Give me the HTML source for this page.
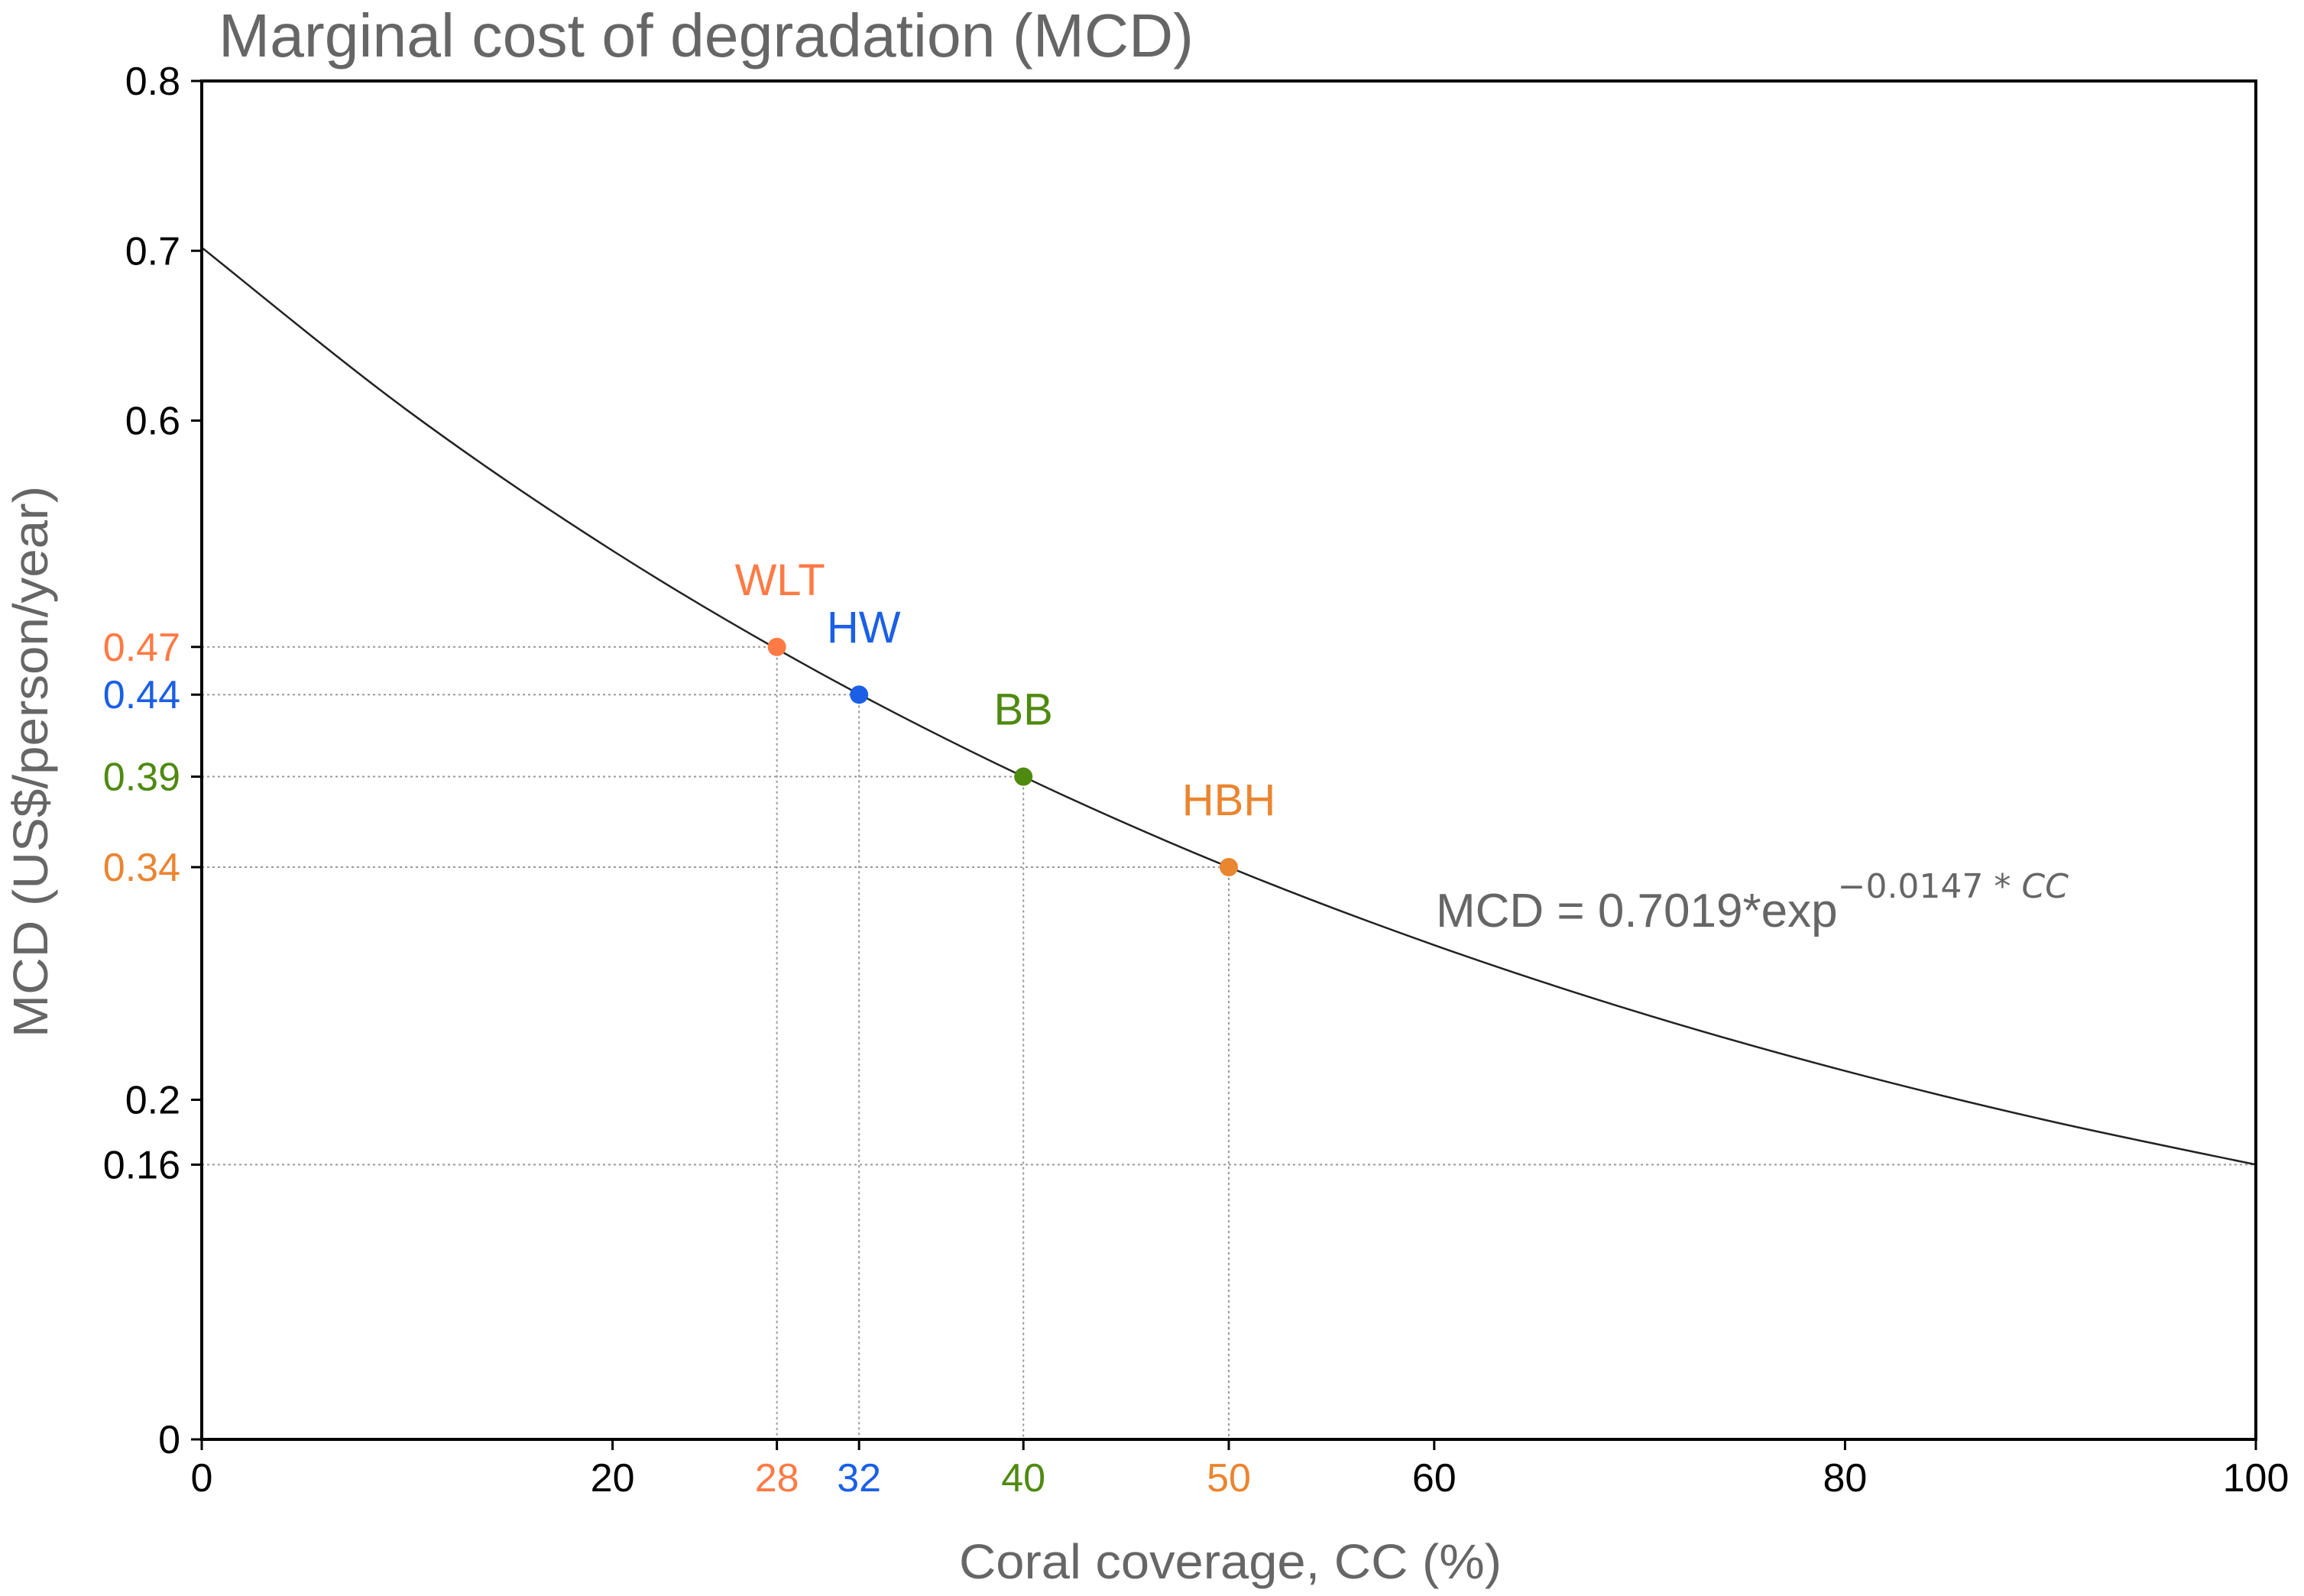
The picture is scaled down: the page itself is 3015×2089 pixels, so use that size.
<!DOCTYPE html>
<html><head><meta charset="utf-8"><style>
html,body{margin:0;padding:0;background:#fff;}
svg{display:block;font-family:"Liberation Sans",sans-serif;}
</style></head><body>
<svg id="chart" width="3015" height="2089" viewBox="0 0 3015 2089" xmlns="http://www.w3.org/2000/svg">
<text x="286" y="74" font-size="80" fill="#666" textLength="1276" lengthAdjust="spacingAndGlyphs">Marginal cost of degradation (MCD)</text>
<g id="plot"></g>
<text transform="translate(62,997) rotate(-90)" text-anchor="middle" font-size="64" fill="#666" textLength="722" lengthAdjust="spacingAndGlyphs">MCD (US$/person/year)</text>
<text x="1610" y="2066" text-anchor="middle" font-size="64" fill="#666" textLength="710" lengthAdjust="spacingAndGlyphs">Coral coverage, CC (%)</text>
<text x="1879" y="1213" font-size="62" fill="#666">MCD = 0.7019*exp<tspan dy="-38" font-size="44" font-family="DejaVu Sans, sans-serif">−0.0147 * <tspan font-style="italic">CC</tspan></tspan></text>
</svg>
<script>
const curveX = [0,10,20,30,40,50,60,70,80,90,100];
const curveY = [0.7019,0.6061,0.5234,0.4520,0.3903,0.3370,0.2911,0.2513,0.2170,0.1874,0.1618];
const siteNames = ["WLT","HW","BB","HBH"];
const siteX = [28,32,40,50];
const siteY = [0.4667,0.4386,0.3903,0.3370];
const siteYLabels = ["0.47","0.44","0.39","0.34"];
const siteColors = ["#ff7a45","#1a5fe6","#4f8a10","#ea8530"];
const xTicks = [0,20,60,80,100];
const yTicks = [0,0.2,0.6,0.7,0.8];
const refY = 0.1618;
const refYLabel = "0.16";

const L=264,R=2952,T=106,B=1884;
const sx=v=>L+(v-0)/(100-0)*(R-L);
const sy=v=>B-(v-0)/(0.8-0)*(B-T);
const NS="http://www.w3.org/2000/svg";
const g=document.getElementById('plot');
function mk(tag,attrs,parent){const e=document.createElementNS(NS,tag);for(const k in attrs)e.setAttribute(k,attrs[k]);(parent||g).appendChild(e);return e;}

let rl=mk('line',{x1:L,x2:R,y1:sy(refY),y2:sy(refY),stroke:'#999','stroke-width':2,'stroke-dasharray':'3,4'});



siteX.forEach((x,i)=>{
  let h=mk('line',{x1:L,x2:sx(x),y1:sy(siteY[i]),y2:sy(siteY[i]),stroke:'#999','stroke-width':2,'stroke-dasharray':'3,4'});
  
  
  let v=mk('line',{x1:sx(x),x2:sx(x),y1:sy(siteY[i]),y2:B,stroke:'#999','stroke-width':2,'stroke-dasharray':'3,4'});
  
  
});

let pts=curveX.map((x,i)=>[sx(x),sy(curveY[i])]);
let d='M'+pts[0][0]+','+pts[0][1];
for(let i=0;i<pts.length-1;i++){
  const p0=pts[Math.max(0,i-1)],p1=pts[i],p2=pts[i+1],p3=pts[Math.min(pts.length-1,i+2)];
  const c1=[p1[0]+(p2[0]-p0[0])/6,p1[1]+(p2[1]-p0[1])/6];
  const c2=[p2[0]-(p3[0]-p1[0])/6,p2[1]-(p3[1]-p1[1])/6];
  d+=` C${c1[0]},${c1[1]} ${c2[0]},${c2[1]} ${p2[0]},${p2[1]}`;
}
let cv=mk('path',{d:d,fill:'none',stroke:'#222','stroke-width':2.5});



let fr=mk('rect',{x:L,y:T,width:R-L,height:B-T,fill:'none',stroke:'#000','stroke-width':4});



function yTick(v,label,color){
  let t=mk('line',{x1:L-14,x2:L,y1:sy(v),y2:sy(v),stroke:'#000','stroke-width':3});
  
  
  let tx=mk('text',{x:L-28,y:sy(v)+18,'text-anchor':'end','font-size':52,fill:color});
  tx.textContent=label;
  
  
}
function xTick(v,label,color){
  let t=mk('line',{x1:sx(v),x2:sx(v),y1:B,y2:B+14,stroke:'#000','stroke-width':3});
  
  
  let tx=mk('text',{x:sx(v),y:B+68,'text-anchor':'middle','font-size':52,fill:color});
  tx.textContent=label;
  
  
}
yTicks.forEach(v=>yTick(v,String(v),'#000'));
yTick(refY,refYLabel,'#000');
xTicks.forEach(v=>xTick(v,String(v),'#000'));
siteX.forEach((x,i)=>{
  yTick(siteY[i],siteYLabels[i],siteColors[i]);
  xTick(x,String(x),siteColors[i]);
});

siteX.forEach((x,i)=>{
  let c=mk('circle',{cx:sx(x),cy:sy(siteY[i]),r:12,fill:siteColors[i]});
  
  
  let lb=mk('text',{x:sx(x)+(i==1?6:i==0?4:0),y:sy(siteY[i])-68,'text-anchor':'middle','font-size':58,fill:siteColors[i]});
  lb.textContent=siteNames[i];
  
  
});
</script>
</body></html>
